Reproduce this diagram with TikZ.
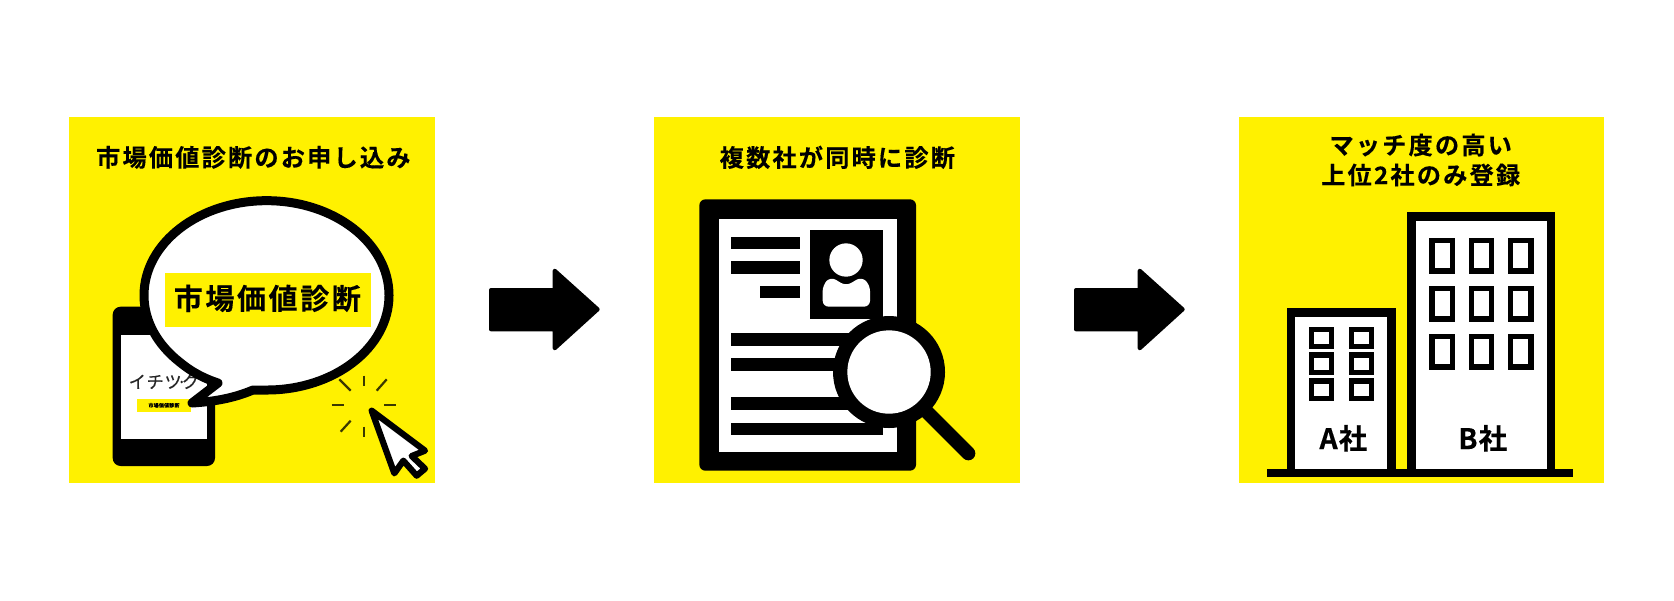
\documentclass[tikz,border=0pt]{standalone}
\usepackage{fontspec}
\setmainfont{Noto Sans CJK JP}
\newfontfamily\titlefont[LetterSpace=9,FakeBold=0.3]{Noto Sans CJK JP Bold}
\newfontfamily\labelfont[LetterSpace=4,FakeBold=0.3]{Noto Sans CJK JP Bold}
\newfontfamily\plainjp[LetterSpace=4,FakeBold=0.4]{Noto Sans CJK JP}
\definecolor{panelyellow}{HTML}{FFF100}
\definecolor{sparkcol}{HTML}{3A3800}
\tikzset{
  panel/.style={fill=panelyellow,draw=none},
  titletext/.style={font=\titlefont\fontsize{12.1}{15}\selectfont,inner sep=0pt,text=black,align=center},
  bldglabel/.style={font=\labelfont\fontsize{14.2}{16}\selectfont,inner sep=0pt,text=black},
  zu/.style={x=0.166667pt,y=-0.166667pt},
  blk/.style={fill=black,draw=none},
  wht/.style={fill=white,draw=none},
  bigarrow/.style={fill=black,draw=black,line width=2pt,line join=round},
  spark/.style={draw=sparkcol,line width=1.1pt},
  winA/.style={draw=black,fill=white,line width=2.7pt},
  winB/.style={draw=black,fill=white,line width=2.8pt},
  bldg/.style={draw=black,fill=white,line width=4.2pt},
}
\begin{document}
\begin{tikzpicture}[x=0.5pt,y=-0.5pt]
\useasboundingbox (0,0) rectangle (1674,600);
\fill[white] (0,0) rectangle (1674,600);
% panels
\fill[panel] (69,117) rectangle (435,483);
\fill[panel] (654,117) rectangle (1020,483);
\fill[panel] (1239,117) rectangle (1604,483);
% arrows
\begin{scope}[shift={(470,250)},zu]
 \draw[bigarrow] (63,120) -- (254,120) -- (254,62) -- (383,178) -- (254,295) -- (254,238) -- (63,238) -- cycle;
\end{scope}
\begin{scope}[shift={(1055,250)},zu]
 \draw[bigarrow] (63,120) -- (254,120) -- (254,62) -- (383,178) -- (254,295) -- (254,238) -- (63,238) -- cycle;
\end{scope}
% panel 1
\begin{scope}[shift={(60,110)},zu]
 \node[titletext] (t1) at (580,142) {市場価値診断のお申し込み};
 \fill[blk,rounded corners=4pt] (158,590) rectangle (465,1068);
 \fill[wht] (184,675) rectangle (441,988);
 \node[inner sep=0pt,font=\plainjp\fontsize{8.6}{10}\selectfont,text=black!85,anchor=west] (logo) at (205,815) {イチツ\kern-2.4pt·\kern-2.4ptク};
 \fill[panelyellow] (231,866) rectangle (393,906);
 \node[inner sep=0pt,font=\labelfont\fontsize{2.5}{3}\selectfont] (mini) at (312,886) {市場価値診断};
 \draw[draw=black,fill=white,line width=4.5pt,line join=round]
   (396,879) .. controls (460,875) and (520,865) .. (579,840) -- (620,840)
   .. controls (823,840) and (987,713) .. (987,556)
   .. controls (987,399) and (823,272) .. (620,272)
   .. controls (417,272) and (252,399) .. (252,556)
   .. controls (252,634) and (293,705) .. (360,757)
   .. controls (400,790) and (440,808) .. (474,819) -- cycle;
 \fill[panelyellow] (314,488) rectangle (932,650);
 \node[inner sep=0pt,font=\titlefont\fontsize{14.5}{16}\selectfont] (t1b) at (622,565) {市場価値診断};
 \draw[spark] (912,797) -- (912,827);
 \draw[spark] (912,950) -- (912,982);
 \draw[spark] (815,885) -- (852,885);
 \draw[spark] (972,885) -- (1007,885);
 \draw[spark] (838,808) -- (872,842);
 \draw[spark] (980,808) -- (950,842);
 \draw[spark] (872,932) -- (842,965);
 \draw[draw=black,fill=white,line width=3.1pt,line join=round]
   (935,902) -- (1095,1022) -- (1055,1038) -- (1095,1076) -- (1070,1097) -- (1030,1052) -- (1003,1090) -- cycle;
\end{scope}
% panel 2
\begin{scope}[shift={(640,110)},zu]
 \node[titletext] (t2) at (592,142) {複数社が同時に診断};
 \fill[blk,rounded corners=3pt] (178,268) rectangle (828,1082);
 \fill[wht] (237,327) rectangle (770,1025);
 \fill[blk] (511,360) rectangle (730,628);
 \fill[wht] (618,450) circle[radius=50];
 \fill[wht,rounded corners=3pt] (548,590) -- (548,525) -- (572,500) -- (618,528) -- (665,500) -- (690,525) -- (690,590) -- cycle;
 \fill[blk] (272,380) rectangle (480,417);
 \fill[blk] (272,454) rectangle (480,491);
 \fill[blk] (360,528) rectangle (480,565);
 \fill[blk] (272,670) rectangle (730,707);
 \fill[blk] (272,745) rectangle (730,782);
 \fill[blk] (272,862) rectangle (730,899);
 \fill[blk] (272,938) rectangle (730,975);
 \draw[black,line width=7pt,line cap=round] (850,895) -- (985,1030);
 \fill[blk] (747,786) circle[radius=168];
 \fill[wht] (747,786) circle[radius=125];
\end{scope}
% panel 3
\begin{scope}[shift={(1230,110)},zu]
 \node[titletext,align=center] (t3a) at (572,105) {マッチ度の高い};
 \node[titletext,align=center] (t3b) at (572,195) {上位2社のみ登録};
 \draw[bldg] (183,1085) -- (183,608) -- (485,608) -- (485,1085);
 \draw[bldg] (545,1085) -- (545,320) -- (963,320) -- (963,1085);
 \fill[blk] (112,1078) rectangle (1030,1102);
 \foreach \xa in {245,365}{
   \foreach \ya in {658,735,813}{
     \draw[winA] (\xa,\ya) rectangle ++(59,52);
   }
 }
 \foreach \xb in {606,724,841}{
   \foreach \yb in {391,535,679}{
     \draw[winB] (\xb,\yb) rectangle ++(61,92);
   }
 }
 \node[bldglabel] (la) at (340,985) {A社};
 \node[bldglabel] (lb) at (758,985) {B社};
\end{scope}
\end{tikzpicture}
\end{document}
